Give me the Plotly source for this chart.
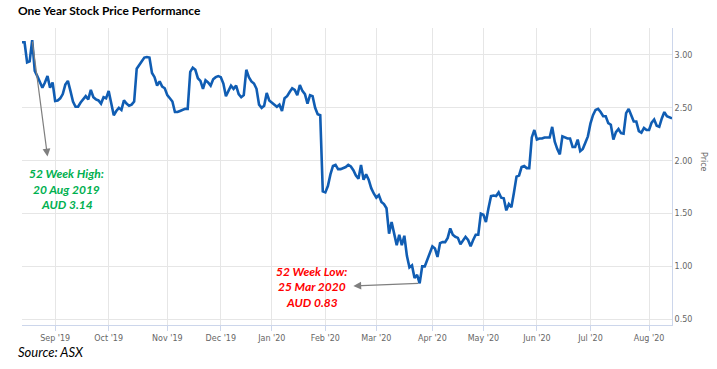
import pandas as pd
import plotly.graph_objects as go

# ---- data (closing prices, AUD, one value per ASX trading day) ----
aug19 = [3.12, 3.12, 2.93, 2.94, 3.14, 2.85, 2.80, 2.75, 2.69, 2.74, 2.80, 2.69, 2.74]
sep19 = [2.565, 2.57, 2.59, 2.63, 2.72, 2.755, 2.66, 2.56, 2.51, 2.51, 2.55, 2.58, 2.61, 2.58,
         2.67, 2.60, 2.58, 2.57, 2.54, 2.60, 2.59]
oct19 = [2.66, 2.55, 2.43, 2.47, 2.50, 2.48, 2.57, 2.54, 2.52, 2.53, 2.56, 2.87, 2.90, 2.94,
         2.975, 2.98, 2.975, 2.83, 2.79, 2.71, 2.75, 2.70, 2.685]
nov19 = [2.62, 2.59, 2.56, 2.46, 2.46, 2.47, 2.48, 2.49, 2.49, 2.84, 2.88, 2.86, 2.78, 2.755,
         2.68, 2.76, 2.74, 2.71, 2.77, 2.79, 2.80]
dec19 = [2.79, 2.73, 2.61, 2.66, 2.71, 2.68, 2.71, 2.63, 2.60, 2.62, 2.86, 2.79, 2.75, 2.73,
         2.68, 2.53, 2.50, 2.52, 2.64, 2.57]
jan20 = [2.55, 2.53, 2.51, 2.53, 2.47, 2.59, 2.61, 2.65, 2.685, 2.67, 2.62, 2.715, 2.66, 2.63,
         2.54, 2.62, 2.61, 2.50, 2.44, 2.43, 1.71]
feb20 = [1.70, 1.76, 1.87, 1.95, 1.96, 1.92, 1.92, 1.93, 1.94, 1.96, 1.945, 1.91, 1.86, 1.83,
         1.96, 1.82, 1.87, 1.82, 1.74, 1.69]
mar20 = [1.65, 1.675, 1.61, 1.59, 1.55, 1.31, 1.42, 1.31, 1.20, 1.30, 1.20, 1.29, 1.10, 0.99,
         1.01, 0.89, 0.92, 0.84, 1.00, 1.00, 1.07, 1.12]
apr20 = [1.19, 1.17, 1.09, 1.22, 1.23, 1.23, 1.27, 1.36, 1.30, 1.28, 1.27, 1.21, 1.24, 1.28,
         1.25, 1.19, 1.25, 1.30, 1.30, 1.50]
may20 = [1.49, 1.42, 1.55, 1.665, 1.67, 1.665, 1.70, 1.65, 1.645, 1.53, 1.59, 1.56, 1.70, 1.85,
         1.86, 1.94, 1.95, 1.93, 1.93, 2.22, 2.29]
jun20 = [2.20, 2.21, 2.21, 2.22, 2.22, 2.22, 2.32, 2.18, 2.11, 2.06, 2.23, 2.22, 2.21, 2.21,
         2.13, 2.13, 2.20, 2.09, 2.11, 2.17, 2.23]
jul20 = [2.35, 2.43, 2.48, 2.49, 2.46, 2.42, 2.42, 2.355, 2.34, 2.20, 2.27, 2.30, 2.26, 2.255,
         2.45, 2.49, 2.43, 2.37, 2.37, 2.28, 2.265, 2.31, 2.29]
aug20 = [2.29, 2.36, 2.39, 2.33, 2.32, 2.40, 2.46, 2.42, 2.41, 2.40]

asx_holidays = ["2019-12-25", "2019-12-26", "2020-01-01", "2020-01-27",
                "2020-04-10", "2020-04-13", "2020-06-08"]

tick_dates = ["2019-09-02", "2019-10-01", "2019-11-01", "2019-12-02", "2020-01-02", "2020-02-03",
              "2020-03-02", "2020-04-01", "2020-05-01", "2020-06-01", "2020-07-01", "2020-08-03"]
tick_labels = ["Sep '19", "Oct '19", "Nov '19", "Dec '19", "Jan '20", "Feb '20",
               "Mar '20", "Apr '20", "May '20", "Jun '20", "Jul '20", "Aug '20"]

high_date, high_price = "2019-08-20", 3.14
low_date, low_price = "2020-03-25", 0.84

prices = aug19 + sep19 + oct19 + nov19 + dec19 + jan20 + feb20 + mar20 + apr20 + may20 + jun20 + jul20 + aug20
dates = [d for d in pd.bdate_range("2019-08-14", "2020-08-14")
         if d.strftime("%Y-%m-%d") not in asx_holidays]
assert len(dates) == len(prices), (len(dates), len(prices))

# ---- figure ----
W, H = 717, 369
# plot area in window pixels: x 22..672, y 28..325
PL, PR, PT, PB = 22, 672, 28, 325
L, R, T, B = PL, W - PR, PT, H - PB
pw, ph = PR - PL, PB - PT


def px(x):  # window pixel -> paper x
    return (x - PL) / pw


def py(y):  # window pixel -> paper y
    return (PB - y) / ph


fig = go.Figure()
fig.add_trace(go.Scatter(x=dates, y=prices, mode="lines",
                         line=dict(color="#105db3", width=2.6), hoverinfo="x+y"))

grid = "#e6e6e6"
axis_c = "#ccd6eb"
tick_font = dict(family="DejaVu Sans", size=8, color="#666666")

fig.update_xaxes(
    type="date", range=[dates[0], dates[-1]],
    rangebreaks=[dict(bounds=["sat", "mon"]), dict(values=asx_holidays)],
    tickvals=tick_dates, ticktext=tick_labels, tickfont=tick_font,
    showgrid=True, gridcolor=grid, gridwidth=1,
    showline=True, linecolor=axis_c, linewidth=1,
    ticks="outside", ticklen=5, tickcolor=axis_c, zeroline=False,
)
fig.update_yaxes(
    side="right", range=[0.446, 3.255],
    tickvals=[0.5, 1.0, 1.5, 2.0, 2.5, 3.0], tickformat=".2f", tickfont=tick_font,
    showgrid=True, gridcolor=grid, gridwidth=1,
    showline=True, linecolor=axis_c, linewidth=1, zeroline=False, ticks="",
)

ann = []
ann.append(dict(xref="paper", yref="paper", x=px(16), y=py(10), xanchor="left", yanchor="middle",
                text="<b>One Year Stock Price Performance</b>", showarrow=False,
                font=dict(family="Lato", size=12, color="#000000")))
ann.append(dict(xref="paper", yref="paper", x=px(16), y=py(352), xanchor="left", yanchor="middle",
                text="<i>Source: ASX</i>", showarrow=False,
                font=dict(family="Lato", size=13, color="#000000")))
ann.append(dict(xref="paper", yref="paper", x=1, xshift=31, y=py(162), xanchor="center", yanchor="middle",
                text="Price", textangle=90, showarrow=False,
                font=dict(family="DejaVu Sans", size=8, color="#666666")))

green = "#00b050"
red = "#ff0000"
hi_lines = ["52 Week High:", "20 Aug 2019", "AUD 3.14"]
for t, yy in zip(hi_lines, [173.3, 189.0, 204.3]):
    ann.append(dict(xref="paper", yref="paper", x=px(66.7), y=py(yy), xanchor="center", yanchor="middle",
                    text="<b><i>%s</i></b>" % t, showarrow=False,
                    font=dict(family="Lato", size=12, color=green)))
lo_lines = ["52 Week Low:", "25 Mar 2020", "AUD 0.83"]
for t, yy in zip(lo_lines, [271.0, 286.7, 302.0]):
    ann.append(dict(xref="paper", yref="paper", x=px(311.7), y=py(yy), xanchor="center", yanchor="middle",
                    text="<b><i>%s</i></b>" % t, showarrow=False,
                    font=dict(family="Lato", size=12, color=red)))

# arrows from the extreme points to the labels
ann.append(dict(x="2019-08-28", y=2.04, xref="x", yref="y",
                ax=high_date, ay=high_price, axref="x", ayref="y",
                text="", showarrow=True, arrowhead=2, arrowsize=1.3, arrowwidth=1.2,
                arrowcolor="#7f7f7f", standoff=0, startstandoff=0))
ann.append(dict(x="2020-02-18", y=0.815, xref="x", yref="y",
                ax=low_date, ay=low_price, axref="x", ayref="y",
                text="", showarrow=True, arrowhead=2, arrowsize=1.3, arrowwidth=1.2,
                arrowcolor="#7f7f7f", standoff=0, startstandoff=0))

fig.update_layout(
    width=W, height=H, margin=dict(l=L, r=R, t=T, b=B),
    paper_bgcolor="#ffffff", plot_bgcolor="#ffffff",
    showlegend=False, annotations=ann,
)

# remove the browser's default 8px page margin so the figure sits at the window origin
fig.write_html("out.html", config={"displayModeBar": False},
               post_script="document.body.style.margin='0';document.body.style.overflow='hidden';")
